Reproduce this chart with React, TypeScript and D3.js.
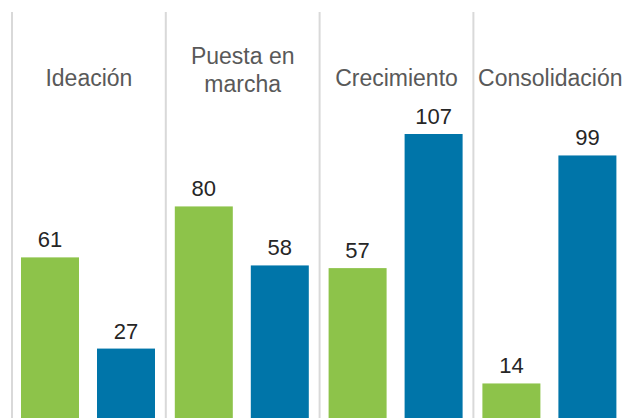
import React from "react";
import * as d3 from "d3";

const categories = ["Ideación", "Puesta en marcha", "Crecimiento", "Consolidación"];
const categoryLines = [["Ideación"], ["Puesta en", "marcha"], ["Crecimiento"], ["Consolidación"]];
const seriesKeys = ["Serie 1", "Serie 2"];
const series1 = [61, 80, 57, 14];
const series2 = [27, 58, 107, 99];

const W = 623;
const H = 418;
const GREEN = "#8DC34A";
const BLUE = "#0075A9";

export default function App() {
  const x = d3.scaleBand<string>().domain(categories).range([12, 12 + 153.8 * 4]).paddingInner(0).paddingOuter(0);
  const xi = d3.scaleBand<string>().domain(seriesKeys).range([9, 143]).paddingInner(18 / 76).paddingOuter(0);
  const y = d3.scaleLinear().domain([0, 107]).range([421, 134]);
  const colors = [GREEN, BLUE];
  const data = [series1, series2];

  return (
    <svg width={W} height={H} style={{ position: "absolute", left: 0, top: 0, background: "#fff" }}
      fontFamily="'Liberation Sans', Arial, sans-serif">
      {categories.map((c) => (
        <line key={"sep" + c} x1={x(c)!} x2={x(c)!} y1={12} y2={H} stroke="#d9d9d9" strokeWidth={2} />
      ))}
      {categories.map((c, i) => {
        const lines = categoryLines[i];
        const cx = x(c)! + x.bandwidth() / 2;
        const baseY = lines.length === 1 ? [86] : [64, 92];
        return (
          <text key={"lab" + c} textAnchor="middle" fontSize={23} fill="#595959">
            {lines.map((l, j) => (
              <tspan key={j} x={cx} y={baseY[j]}>{l}</tspan>
            ))}
          </text>
        );
      })}
      {categories.map((c, i) =>
        seriesKeys.map((s, k) => {
          const v = data[k][i];
          const bx = x(c)! + xi(s)!;
          const by = y(v);
          return (
            <g key={c + s}>
              <rect x={bx} y={by} width={xi.bandwidth()} height={Math.max(0, y(0) - by)} fill={colors[k]} />
              <text x={bx + xi.bandwidth() / 2} y={by - 10} textAnchor="middle" fontSize={22} fill="#262626">
                {v}
              </text>
            </g>
          );
        })
      )}
    </svg>
  );
}
